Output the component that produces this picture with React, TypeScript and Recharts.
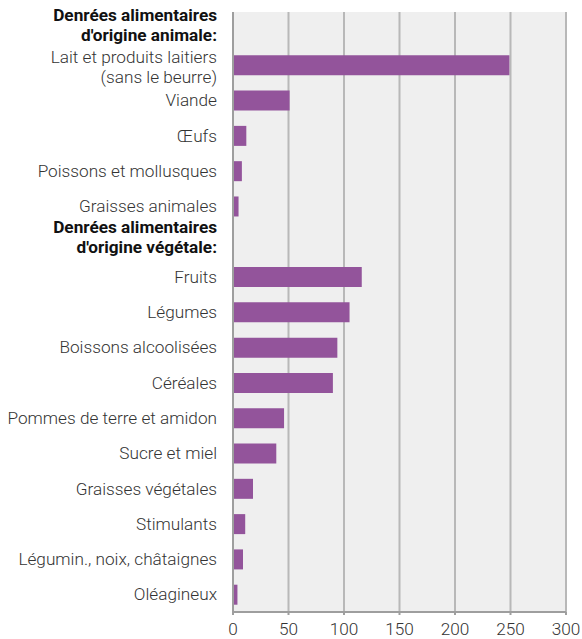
import { BarChart, Bar, XAxis, YAxis, CartesianGrid } from "recharts";

// catégories (les titres de groupe n'ont pas de valeur)
const categories = [
  "Denrées alimentaires\nd'origine animale:",
  "Lait et produits laitiers\n(sans le beurre)",
  "Viande",
  "Œufs",
  "Poissons et mollusques",
  "Graisses animales",
  "Denrées alimentaires\nd'origine végétale:",
  "Fruits",
  "Légumes",
  "Boissons alcoolisées",
  "Céréales",
  "Pommes de terre et amidon",
  "Sucre et miel",
  "Graisses végétales",
  "Stimulants",
  "Légumin., noix, châtaignes",
  "Oléagineux",
];

const values: (number | null)[] = [
  null, 249, 51, 12, 8, 5, null, 116, 105, 94, 90, 46, 39, 18, 11, 9, 4,
];

const headers = [categories[0], categories[6]];

const xTicks = [0, 50, 100, 150, 200, 250, 300];

const data = categories.map((name, i) => ({ name, value: values[i] }));

const FS = 17.2;

function CategoryTick(props: any) {
  const { x, y, payload } = props;
  const label: string = payload.value;
  const isHeader = headers.includes(label);
  const lines = label.split("\n");
  const lh = 20;
  const shift = isHeader ? -5 : lines.length > 1 ? 2 : 0;
  return (
    <text
      x={x}
      y={y + shift}
      textAnchor="end"
      fontFamily="Roboto"
      fontSize={FS}
      fontWeight={isHeader ? 700 : 300}
      fill={isHeader ? "#111" : "#333"}
    >
      {lines.map((line, i) => (
        <tspan
          key={i}
          x={x}
          dy={i === 0 ? `${0.355 * FS - ((lines.length - 1) * lh) / 2}` : lh}
        >
          {line}
        </tspan>
      ))}
    </text>
  );
}

export default function App() {
  return (
    <div>
      <style>{"body{margin:0}"}</style>
      <BarChart
        width={582}
        height={639}
        data={data}
        layout="vertical"
        margin={{ top: 12, right: 16, bottom: 0, left: 0 }}
      >
        <CartesianGrid
          horizontal={false}
          stroke="#b8b8b8"
          strokeWidth={2}
          fill="#efefef"
          fillOpacity={1}
        />
        <XAxis
          type="number"
          domain={[0, 300]}
          ticks={xTicks}
          height={27}
          axisLine={{ stroke: "#9e9e9e", strokeWidth: 2 }}
          tickLine={{ stroke: "#9e9e9e", strokeWidth: 2 }}
          tickSize={3}
          tickMargin={8}
          tick={{ fontFamily: "Roboto", fontWeight: 300, fontSize: FS, fill: "#333" }}
        />
        <XAxis
          xAxisId="top"
          orientation="top"
          type="number"
          domain={[0, 300]}
          height={0}
          tick={false}
          tickLine={false}
          axisLine={{ stroke: "#9e9e9e", strokeWidth: 2 }}
        />
        <YAxis
          type="category"
          dataKey="name"
          width={233}
          tickLine={false}
          tickSize={0}
          tickMargin={16}
          interval={0}
          axisLine={{ stroke: "#9e9e9e", strokeWidth: 2 }}
          tick={<CategoryTick />}
        />
        <YAxis
          yAxisId="right"
          orientation="right"
          type="category"
          dataKey="name"
          width={0}
          tick={false}
          tickLine={false}
          axisLine={{ stroke: "#9e9e9e", strokeWidth: 2 }}
        />
        <Bar dataKey="value" fill="#93549b" barSize={20} isAnimationActive={false} />
      </BarChart>
    </div>
  );
}
